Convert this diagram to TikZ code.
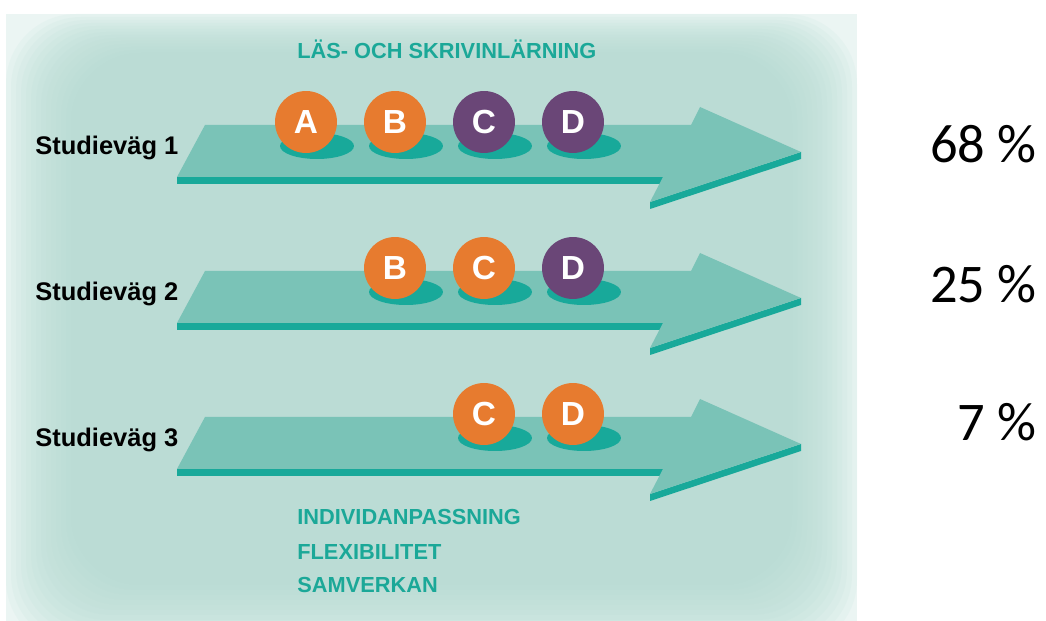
\documentclass[tikz,border=0pt]{standalone}
\usepackage{fontspec}
\setmainfont{Liberation Sans}
\newfontfamily\pctfont{Carlito}
\usetikzlibrary{positioning}

\definecolor{panel}{HTML}{B4DAD2}
\definecolor{panelout}{HTML}{EBF5F3}
\definecolor{facet}{HTML}{7AC3B7}
\definecolor{edge}{HTML}{18A99A}
\definecolor{orng}{HTML}{E77B2F}
\definecolor{purp}{HTML}{6A4677}
\definecolor{tealtext}{HTML}{1BA898}

\begin{document}
\begin{tikzpicture}[x=0.02cm,y=-0.02cm]
    \tikzset{ball/.style={circle,minimum size=1.24cm,inner sep=0pt,text=white,font=\fontsize{19pt}{19pt}\selectfont\bfseries}}
    \tikzset{pathlabel/.style={anchor=base west,inner sep=0pt,font=\fontsize{14.5pt}{16pt}\selectfont\bfseries}}
    \tikzset{share/.style={anchor=base east,inner sep=0pt,font=\pctfont\fontsize{31pt}{34pt}\selectfont}}
    \tikzset{keyword/.style={anchor=base west,inner sep=0pt,text=tealtext,font=\fontsize{12.4pt}{14pt}\selectfont\bfseries}}
    \useasboundingbox (0,0) rectangle (1046,621);
    \fill[white] (0,0) rectangle (1046,621);
    \fill[panelout] (6,14) rectangle (857,621);
    \foreach \k in {0,...,13}
      \fill[panel,fill opacity=0.11,rounded corners=1.4cm] ({6+5*\k},{14+3*\k}) rectangle ({857-5*\k},{650-5*\k});
    \foreach \r in {1,2,3}{
      \begin{scope}[shift={(0,{146*(\r-1)})}]
        \fill[edge] (177,177) rectangle (668,184);
        \fill[edge] (650,202) -- (801,152) -- (801,159) -- (650,209) -- cycle;
        \fill[facet] (177,177) -- (205,125) -- (691,125) -- (700,107) -- (801,152) -- (650,202) -- (663,177) -- cycle;
      \end{scope}
    }
    \foreach \r/\items in {1/{A/306/orng,B/395/orng,C/484/purp,D/573/purp},2/{B/395/orng,C/484/orng,D/573/purp},3/{C/484/orng,D/573/orng}}{
      \foreach \l/\x/\c in \items{
        \fill[edge] ({\x+11},{146+146*(\r-1)}) ellipse [x radius=0.74cm, y radius=0.26cm];
        \node[ball,fill=\c] (ball\r\l) at (\x,{122+146*(\r-1)}) {\l};
      }
    }
    \foreach \r in {1,2,3}
      \node[pathlabel] (path\r) at (35,{155+146*(\r-1)}) {Studieväg \r};
    \foreach \r/\p/\yy in {1/68/163,2/25/303,3/7/441}
      \node[share] (share\r) at (1037,\yy) {\p\ \%};
    \node[keyword] (reading) at (297,59) {LÄS- OCH SKRIVINLÄRNING};
    \node[keyword] (individual) at (297,525) {INDIVIDANPASSNING};
    \node[keyword] (flex) at (297,560) {FLEXIBILITET};
    \node[keyword] (coop) at (297,593) {SAMVERKAN};
\end{tikzpicture}
\end{document}
